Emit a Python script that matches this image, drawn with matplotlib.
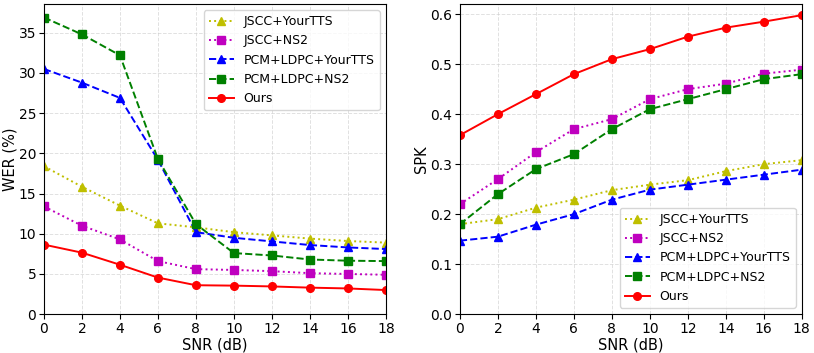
import matplotlib
matplotlib.use("Agg")
import matplotlib.pyplot as plt

snr = [0, 2, 4, 6, 8, 10, 12, 14, 16, 18]

labels = ["JSCC+YourTTS", "JSCC+NS2", "PCM+LDPC+YourTTS", "PCM+LDPC+NS2", "Ours"]

wer_jscc_yourtts = [18.4, 15.85, 13.5, 11.3, 10.8, 10.2, 9.8, 9.4, 9.1, 8.9]
wer_jscc_ns2 = [13.4, 11.0, 9.3, 6.6, 5.6, 5.5, 5.35, 5.1, 5.0, 4.9]
wer_pcm_yourtts = [30.5, 28.8, 26.9, 19.2, 10.2, 9.5, 9.05, 8.6, 8.3, 8.1]
wer_pcm_ns2 = [36.9, 34.8, 32.2, 19.3, 11.2, 7.6, 7.3, 6.8, 6.65, 6.6]
wer_ours = [8.65, 7.65, 6.15, 4.55, 3.6, 3.55, 3.45, 3.3, 3.2, 3.0]

spk_jscc_yourtts = [0.18, 0.19, 0.213, 0.229, 0.248, 0.259, 0.268, 0.286, 0.30, 0.308]
spk_jscc_ns2 = [0.22, 0.27, 0.324, 0.37, 0.39, 0.43, 0.45, 0.461, 0.481, 0.489]
spk_pcm_yourtts = [0.147, 0.155, 0.179, 0.20, 0.229, 0.249, 0.259, 0.269, 0.279, 0.289]
spk_pcm_ns2 = [0.18, 0.24, 0.29, 0.32, 0.37, 0.41, 0.43, 0.45, 0.47, 0.48]
spk_ours = [0.358, 0.40, 0.44, 0.48, 0.51, 0.53, 0.555, 0.573, 0.585, 0.598]

styles = [
    dict(color="y", linestyle=":", marker="^"),
    dict(color="m", linestyle=":", marker="s"),
    dict(color="b", linestyle="--", marker="^"),
    dict(color="g", linestyle="--", marker="s"),
    dict(color="r", linestyle="-", marker="o"),
]

fig = plt.figure(figsize=(8.14, 3.53), dpi=100)
ax1 = fig.add_axes([0.054, 0.110, 0.420, 0.879])
ax2 = fig.add_axes([0.565, 0.110, 0.420, 0.879])

wer = [wer_jscc_yourtts, wer_jscc_ns2, wer_pcm_yourtts, wer_pcm_ns2, wer_ours]
spk = [spk_jscc_yourtts, spk_jscc_ns2, spk_pcm_yourtts, spk_pcm_ns2, spk_ours]

for ax, data, ylabel, loc in [(ax1, wer, "WER (%)", "upper right"), (ax2, spk, "SPK", "lower right")]:
    for y, lab, st in zip(data, labels, styles):
        ax.plot(snr, y, label=lab, linewidth=1.4, markersize=5.5, **st)
    ax.set_xlim(0, 18)
    ax.set_ylim(bottom=0)
    ax.set_xticks(snr)
    ax.grid(True, linestyle="--", color="#cccccc", alpha=0.6, linewidth=0.7)
    ax.set_xlabel("SNR (dB)", fontsize=10.5, labelpad=1)
    ax.set_ylabel(ylabel, fontsize=10.5, labelpad=1)
    ax.tick_params(labelsize=10, pad=2)
    ax.legend(loc=loc, fontsize=9)

fig.savefig("out.png", dpi=100)
